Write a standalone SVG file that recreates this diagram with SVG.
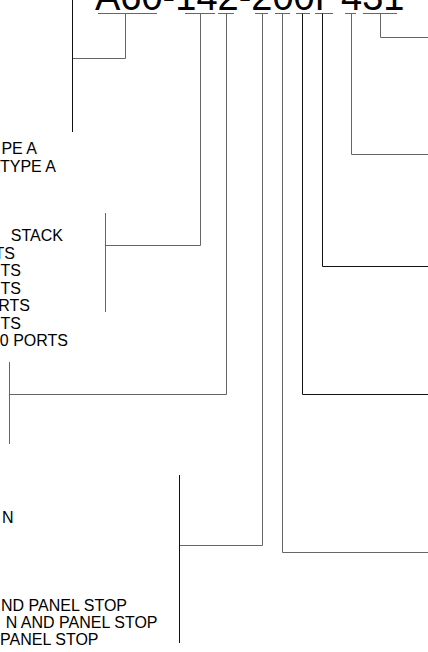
<svg xmlns="http://www.w3.org/2000/svg" width="428" height="652" viewBox="0 0 428 652">
<style>
.t{font-family:"Liberation Sans",Arial,sans-serif;font-size:16px;fill:#000;text-anchor:end}
.title{font-family:"Liberation Sans",Arial,sans-serif;font-size:38px;fill:#000}
.g{fill:none;stroke:#666;stroke-width:1}
.k{fill:none;stroke:#111;stroke-width:1}
</style>
<rect width="428" height="652" fill="#fff"/>
<g id="title"><text class="title" x="95" y="10">A60-142-200F<tspan x="330.5"> 431</tspan></text></g>
<g id="connectors">
<path class="g" d="M98 13.5H157M185 13.5H215M218 13.5H234M255 13.5H268M275 13.5H290M296 13.5H310M315 13.5H333M345 13.5H356M363 13.5H397"/>
<path class="g" d="M125.5 13.5V58.5H72.5"/>
<path class="k" d="M72.5 0V132"/>
<path class="g" d="M200.5 13.5V245.5H105.5M105.5 213V312"/>
<path class="g" d="M226.5 13.5V394.5H9.5M9.5 362V444"/>
<path class="g" d="M262.5 13.5V545.5H179.5"/>
<path class="k" d="M179.5 475V643"/>
<path class="g" d="M282.5 13.5V552.5H428"/>
<path class="k" d="M302.5 13.5V394.5H428"/>
<path class="k" d="M322.5 13.5V266.5H428"/>
<path class="g" d="M351.5 13.5V154.5H428"/>
<path class="g" d="M380.5 13.5V37.5H428"/>
</g>
<g id="label-type"><text class="t" x="37" y="154">PE A</text><text class="t" x="56" y="172">TYPE A</text></g>
<g id="label-ports"><text class="t" x="63" y="241">STACK</text><text class="t" x="15" y="258.5">TS</text><text class="t" x="21" y="276">TS</text><text class="t" x="21" y="293.5">TS</text><text class="t" x="30" y="311">RTS</text><text class="t" x="21" y="328.5">TS</text><text class="t" x="68" y="346">0 PORTS</text></g>
<g id="label-panel"><text class="t" x="13.5" y="522.5">N</text><text class="t" x="127" y="610.5">ND PANEL STOP</text><text class="t" x="157.5" y="627.5">N AND PANEL STOP</text><text class="t" x="98.5" y="644.5">PANEL STOP</text></g>
</svg>
